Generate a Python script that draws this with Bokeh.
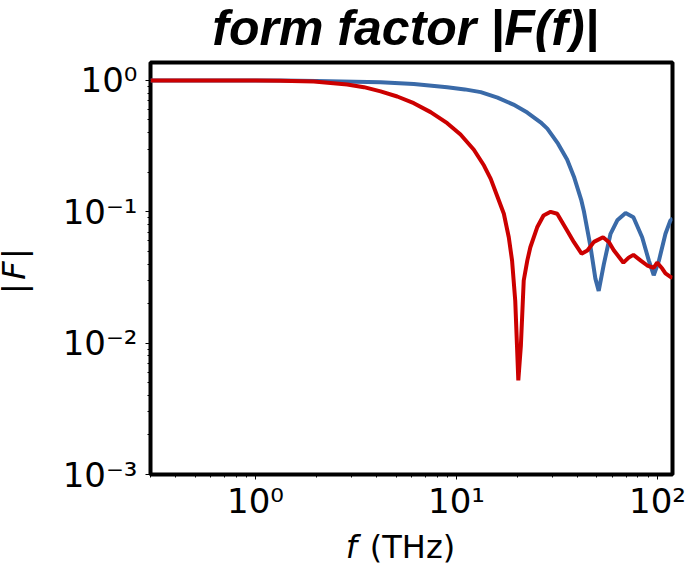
from bokeh.plotting import figure
from bokeh.embed import file_html
from bokeh.resources import INLINE
from bokeh.models import FixedTicker, CustomJSTickFormatter, Range1d
from bokeh.layouts import column, row
from bokeh.core.properties import value

# ---- data ----
blue_f = [0.3, 0.6, 1.0, 1.33, 2.0, 4.19, 6.13, 8.99, 11.0, 13.2, 16.0, 19.2, 22.5, 26.2, 28.3, 32.0,
          35.5, 38.4, 41.7, 43.1, 46.4, 49.1, 51.0, 54.1, 58.4, 63.1, 69.4, 75.9, 83.9, 90.6, 95.8,
          101.7, 109.6, 116.0, 119.0]
blue_v = [1.0, 1.0, 0.999, 0.998, 0.99, 0.97, 0.94, 0.889, 0.855, 0.815, 0.74, 0.655, 0.57, 0.48, 0.43, 0.33,
          0.25, 0.185, 0.124, 0.100, 0.0545, 0.031, 0.025, 0.040, 0.068, 0.0861, 0.098, 0.091, 0.064, 0.0425,
          0.0329, 0.0425, 0.068, 0.086, 0.089]

red_f = [0.3, 0.6, 1.0, 1.33, 1.95, 2.86, 3.46, 4.19, 5.07, 6.13, 7.43, 8.99, 10.47, 12.2, 13.7,
         14.8, 15.9, 17.2, 18.2, 18.9, 19.6, 20.0, 20.3, 20.9, 21.6, 22.5, 23.3, 25.2, 27.1,
         29.4, 31.7, 35.5, 38.4, 41.9, 44.8, 48.3, 53.6, 57.4, 60.6, 67.7, 71.9, 75.9, 82.6,
         89.0, 95.8, 99.6, 105.6, 109.6, 116.0, 119.0]
red_v = [1.0, 1.0, 0.998, 0.995, 0.983, 0.932, 0.889, 0.825, 0.755, 0.671, 0.574, 0.473, 0.388, 0.297, 0.225,
         0.178, 0.133, 0.0966, 0.064, 0.0425, 0.021, 0.0095, 0.0052, 0.0095, 0.030, 0.0425, 0.0537, 0.0762, 0.0938,
         0.100, 0.0966, 0.072, 0.0587, 0.048, 0.0508, 0.059, 0.064, 0.0587, 0.051, 0.041, 0.0448, 0.047, 0.0425,
         0.039, 0.0375, 0.041, 0.037, 0.034, 0.032, 0.0315]

x_major = [1, 10, 100]
y_major = [0.001, 0.01, 0.1, 1]

TITLE = "form factor |F(f)|"
XLABEL_VAR = "f"
XLABEL_UNIT = "(THz)"
YLABEL_BAR = "|"
YLABEL_VAR = "F"

BLUE = "#3a6aa8"
RED = "#cc0000"


def blank(width, height, x0=0, x1=None):
    f = figure(width=width, height=height,
               x_range=Range1d(x0, width if x1 is None else x1), y_range=Range1d(0, height),
               x_axis_location=None, y_axis_location=None, output_backend="svg",
               toolbar_location=None, min_border=0, title=None)
    f.grid.visible = False
    f.outline_line_color = None
    f.background_fill_color = "white"
    f.border_fill_color = "white"
    return f


# title strip
tf = blank(687, 52)
tf.text(x=[405], y=[25], text=[TITLE], text_font=value("Liberation Sans"),
        text_font_style="bold italic", text_font_size="50px", text_color="black",
        text_align="center", text_baseline="alphabetic")

# y label strip
lf = blank(50, 515)
lf.text(x=[13, 13], y=[314, 279], text=[YLABEL_BAR, YLABEL_BAR], text_font=value("DejaVu Sans"),
        text_font_size="32px", text_color="black", angle=1.5708,
        text_align="center", text_baseline="middle")
lf.text(x=[13], y=[297], text=[YLABEL_VAR], text_font=value("DejaVu Sans"),
        text_font_style="italic", text_font_size="32px", text_color="black", angle=1.5708,
        text_align="center", text_baseline="middle")

# main plot
p = figure(width=637, height=472, x_axis_type="log", y_axis_type="log",
           x_range=Range1d(0.30, 118.8), y_range=Range1d(0.001, 1.37),
           output_backend="svg", toolbar_location=None, title=None,
           min_border_left=100, min_border_right=15, min_border_top=10, min_border_bottom=50)

p.line(blue_f, blue_v, line_color=BLUE, line_width=4)
p.line(red_f, red_v, line_color=RED, line_width=4)

p.grid.visible = False
p.outline_line_color = "black"
p.outline_line_width = 4
p.outline_line_alpha = 1.0
p.background_fill_color = "white"
p.border_fill_color = "white"


def minor_list(majors):
    out = []
    d = majors[0] / 10
    while d <= majors[-1] * 1.001:
        for k in range(2, 10):
            out.append(d * k)
        d *= 10
    return out


p.xaxis.ticker = FixedTicker(ticks=x_major, minor_ticks=minor_list(x_major))
p.yaxis.ticker = FixedTicker(ticks=y_major, minor_ticks=minor_list(y_major))

fmt = CustomJSTickFormatter(code="""
const e = Math.round(Math.log10(tick));
const sup = {'0':'\u2070','1':'\u00b9','2':'\u00b2','3':'\u00b3','4':'\u2074','5':'\u2075','6':'\u2076','7':'\u2077','8':'\u2078','9':'\u2079','-':'\u207b'};
return '10' + String(e).split('').map(c => sup[c]).join('');
""")
for ax in (p.xaxis, p.yaxis):
    ax.formatter = fmt
    ax.axis_line_color = None
    ax.major_tick_in = 0
    ax.major_tick_out = 5
    ax.minor_tick_in = 0
    ax.minor_tick_out = 3
    ax.major_tick_line_color = "black"
    ax.minor_tick_line_color = "black"
    ax.major_tick_line_width = 1
    ax.minor_tick_line_width = 1
    ax.major_label_text_font = "DejaVu Sans"
    ax.major_label_text_font_size = "34px"
    ax.major_label_text_color = "black"
p.yaxis.major_label_standoff = 8
p.xaxis.major_label_standoff = 1

# x label strip: its frame lines up with the main plot's frame (page x 150..672)
bf = blank(637, 43, 150, 672)
bf.text(x=[351], y=[21], text=[XLABEL_VAR], text_font=value("DejaVu Sans"),
        text_font_style="italic", text_font_size="32px", text_color="black",
        text_align="center", text_baseline="alphabetic")
bf.text(x=[412], y=[21], text=[XLABEL_UNIT], text_font=value("DejaVu Sans"),
        text_font_style="normal", text_font_size="32px", text_color="black",
        text_align="center", text_baseline="alphabetic")

layout = column(tf, row(lf, column(p, bf, spacing=0), spacing=0), spacing=0)

open("out.html", "w").write(file_html(layout, INLINE))
